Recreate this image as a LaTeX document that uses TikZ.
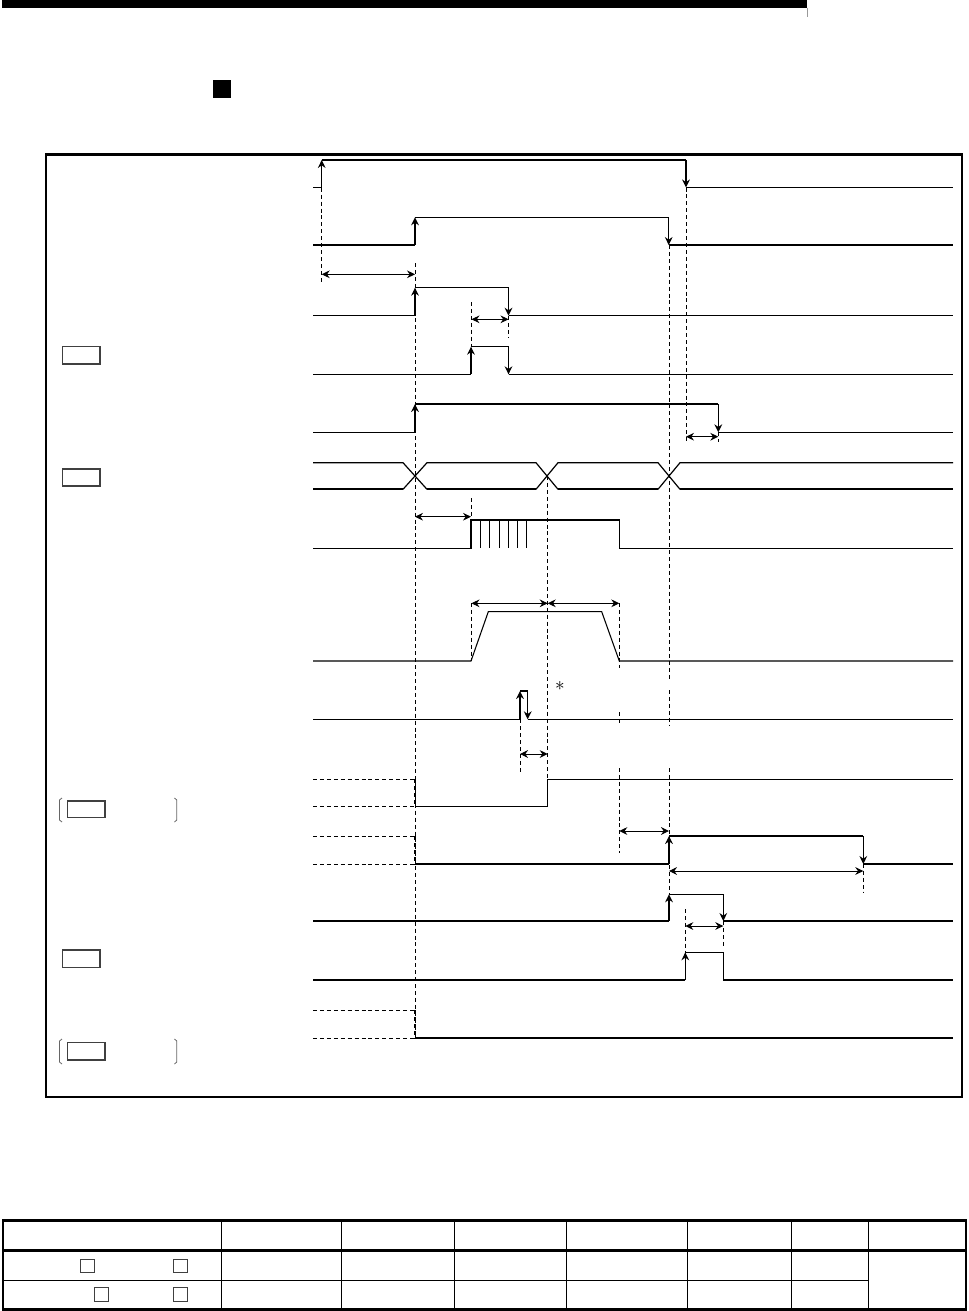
\documentclass[tikz,border=0pt]{standalone}
\usetikzlibrary{arrows.meta}
\tikzset{
  myt/.tip={Stealth[length=6pt,width=5.8pt,inset=2pt]},
  sig/.style={line width=0.9pt, line join=miter},
  busb/.style={line width=1.4pt},
  dsh/.style={line width=0.75pt, dash pattern=on 3pt off 2.2pt},
  dshb/.style={line width=1.5pt, dash pattern=on 3pt off 2.2pt},
  edgear/.style={sig,-myt},
  dimar/.style={line width=0.65pt,myt-myt},
  lblbox/.style={draw=black!75, line width=0.8pt},
  brk/.style={draw=black!60, line width=0.6pt},
  tthick/.style={line width=2pt},
  tthin/.style={line width=0.7pt}
}
\begin{document}
\begin{tikzpicture}[x=0.75pt,y=-0.75pt]
\useasboundingbox (0,0) rectangle (969,1311);
% header
\fill (2,0) rectangle (807,7.7);
\draw[black!40, line width=0.5pt] (807.3,7.7) -- (807.3,16.7);
\fill (213,80) rectangle (231,98);
% frame
\draw[line width=1.9pt] (46,154.5) rectangle (962,1097);

% ---------- dashed guide lines ----------
\draw[dsh] (321.7,187.7) -- (321.7,281.7);
\draw[dsh] (415,263) -- (415,1038);
\draw[dsh] (471.5,302) -- (471.5,346.7);
\draw[dsh] (471.5,498) -- (471.5,520);
\draw[dsh] (471.5,603) -- (471.5,661);
\draw[dsh] (508.5,316) -- (508.5,338);
\draw[dsh] (547.7,476) -- (547.7,779.3);
\draw[dsh] (619.3,603) -- (619.3,668);
\draw[dsh] (619.3,712) -- (619.3,725);
\draw[dsh] (619.3,768) -- (619.3,853.3);
\draw[dsh] (669,245) -- (669,680);
\draw[dsh] (669,690) -- (669,725);
\draw[dsh] (669,768) -- (669,894.3);
\draw[dsh] (686,187.5) -- (686,442);
\draw[dsh] (685.3,909) -- (685.3,952.3);
\draw[dsh] (718.3,432.3) -- (718.3,442);
\draw[dsh] (520,719.3) -- (520,773.3);
\draw[dsh] (863.3,864) -- (863.3,893.3);
\draw[dsh] (723.3,921) -- (723.3,946.7);

% ---------- signal 1 ----------
\draw[sig] (313,187.7) -- (321.7,187.7);
\draw[edgear] (321.7,187.7) -- (321.7,160);
\draw[sig] (321.7,160) -- (686,160);
\draw[edgear] (686,160) -- (686,187.5);
\draw[sig] (686,187.5) -- (953,187.5);
% ---------- signal 2 ----------
\draw[sig] (313,245) -- (415,245);
\draw[edgear] (415,245) -- (415,217.3);
\draw[sig] (415,217.3) -- (668.7,217.3);
\draw[edgear] (668.7,217.3) -- (668.7,245);
\draw[sig] (668.7,245) -- (953,245);
% ---------- signal 3 ----------
\draw[sig] (313,315.7) -- (415,315.7);
\draw[edgear] (415,315.7) -- (415,287.7);
\draw[sig] (415,287.7) -- (508.5,287.7);
\draw[edgear] (508.5,287.7) -- (508.5,315.7);
\draw[sig] (508.5,315.7) -- (953,315.7);
% ---------- signal 4 ----------
\draw[sig] (313,374.3) -- (471,374.3);
\draw[edgear] (471,374.3) -- (471,346.7);
\draw[sig] (471,346.7) -- (508.5,346.7);
\draw[edgear] (508.5,346.7) -- (508.5,374.3);
\draw[sig] (508.5,374.3) -- (953,374.3);
% ---------- signal 5 ----------
\draw[sig] (313,432.3) -- (415,432.3);
\draw[edgear] (415,432.3) -- (415,404);
\draw[sig] (415,404) -- (718.3,404);
\draw[edgear] (718.3,404) -- (718.3,432.3);
\draw[sig] (718.3,432.3) -- (953,432.3);
% ---------- signal 6 (bus) ----------
\draw[sig] (313,462.7) -- (403,462.7) -- (427,489.3);
\draw[busb] (313,489.3) -- (403,489.3);
\draw[sig] (403,489.3) -- (427,462.7) -- (536,462.7) -- (558,489.3);
\draw[busb] (427,489.3) -- (536,489.3);
\draw[sig] (536,489.3) -- (558,462.7) -- (658,462.7) -- (680,489.3);
\draw[busb] (558,489.3) -- (658,489.3);
\draw[sig] (658,489.3) -- (680,462.7) -- (953,462.7);
\draw[busb] (680,489.3) -- (953,489.3);
% ---------- signal 7 (pulses) ----------
\draw[sig] (313,548.3) -- (471,548.3) -- (471,520) -- (619.3,520) -- (619.3,548.3) -- (953,548.3);
\foreach \px in {480,489.3,499,508.3,517.7,526.7}
  \draw[line width=0.75pt] (\px,520) -- (\px,548.3);
% ---------- signal 8 (trapezoid) ----------
\draw[line width=0.8pt] (313,661) -- (471,661) -- (488.3,611.7) -- (601.7,611.7) -- (619.3,661) -- (953,661);
% ---------- signal 9 ----------
\draw[sig] (313,719.3) -- (520,719.3);
\draw[edgear] (520,719.3) -- (520,691);
\draw[sig] (520,691) -- (527.7,691);
\draw[edgear] (527.7,691) -- (527.7,719.3);
\draw[sig] (527.7,719.3) -- (953,719.3);
\node[inner sep=0pt, font=\Large] (ast) at (560,686) {$\ast$};
% ---------- signal 10 ----------
\draw[dsh] (313,779.3) -- (415,779.3);
\draw[dsh] (313,806.3) -- (415,806.3);
\draw[dshb] (415,779.3) -- (415,806.3);
\draw[sig] (415,806.3) -- (547.7,806.3) -- (547.7,779.3) -- (953,779.3);
% ---------- signal 11 ----------
\draw[dsh] (313,836) -- (415,836);
\draw[dsh] (313,864) -- (415,864);
\draw[dshb] (415,836) -- (415,864);
\draw[sig] (415,864) -- (669,864);
\draw[edgear] (669,864) -- (669,836);
\draw[sig] (669,836) -- (863.3,836);
\draw[edgear] (863.3,836) -- (863.3,864);
\draw[sig] (863.3,864) -- (953,864);
% ---------- signal 12 ----------
\draw[sig] (313,921) -- (669,921);
\draw[edgear] (669,921) -- (669,894.3);
\draw[sig] (669,894.3) -- (723.3,894.3);
\draw[edgear] (723.3,894.3) -- (723.3,921);
\draw[sig] (723.3,921) -- (953,921);
% ---------- signal 13 ----------
\draw[sig] (313,980) -- (685.3,980);
\draw[edgear] (685.3,980) -- (685.3,952.3);
\draw[sig] (685.3,952.3) -- (723.3,952.3) -- (723.3,980) -- (953,980);
% ---------- signal 14 ----------
\draw[dsh] (313,1010) -- (415,1010);
\draw[dsh] (313,1038) -- (415,1038);
\draw[dshb] (415,1010) -- (415,1038);
\draw[sig] (415,1038) -- (953,1038);

% ---------- dimension arrows ----------
\draw[dimar] (321.7,274.3) -- (415,274.3);
\draw[dimar] (471.5,319.3) -- (508.5,319.3);
\draw[dimar] (686,436.7) -- (718.3,436.7);
\draw[dimar] (415,516.7) -- (471,516.7);
\draw[dimar] (471.5,603.3) -- (547.7,603.3);
\draw[dimar] (547.7,603.3) -- (619.3,603.3);
\draw[dimar] (520,754) -- (547.7,754);
\draw[dimar] (619.3,831) -- (669,831);
\draw[dimar] (669,871) -- (863.3,871);
\draw[dimar] (685.3,926) -- (723.3,926);

% ---------- label boxes and brackets ----------
\draw[lblbox] (62.7,346.7) rectangle (100,364);
\draw[lblbox] (62.7,469) rectangle (100,486);
\draw[lblbox] (67.3,801) rectangle (105,817.7);
\draw[lblbox] (62.7,950) rectangle (100,967.7);
\draw[lblbox] (67.3,1042.7) rectangle (105,1060);
\draw[brk] (62,798) -- (59.5,800) -- (59.5,820) -- (62,822);
\draw[brk] (174.5,798) -- (176.8,800) -- (176.8,820) -- (174.5,822);
\draw[brk] (62,1039) -- (59.5,1041) -- (59.5,1062) -- (62,1064);
\draw[brk] (174.5,1039) -- (176.8,1041) -- (176.8,1062) -- (174.5,1064);

% ---------- table ----------
\draw[tthick] (2,1220.7) -- (967,1220.7);
\draw[tthick] (2,1250.7) -- (967,1250.7);
\draw[tthin] (2,1280) -- (868.4,1280);
\draw[tthick] (2,1309.5) -- (967,1309.5);
\draw[tthick] (3,1220.7) -- (3,1309.5);
\draw[tthick] (966,1220.7) -- (966,1309.5);
\foreach \cx in {221.3,341.2,454.3,566.1,687.3,791.1,868.4}
  \draw[tthin] (\cx,1220.7) -- (\cx,1309.5);
\draw[lblbox, line width=0.6pt] (80.3,1259.3) rectangle (94.6,1272.7);
\draw[lblbox, line width=0.6pt] (173,1259.3) rectangle (187.3,1272.7);
\draw[lblbox, line width=0.6pt] (94,1287.3) rectangle (108,1301);
\draw[lblbox, line width=0.6pt] (173,1287.3) rectangle (187.3,1301);
\end{tikzpicture}
\end{document}
